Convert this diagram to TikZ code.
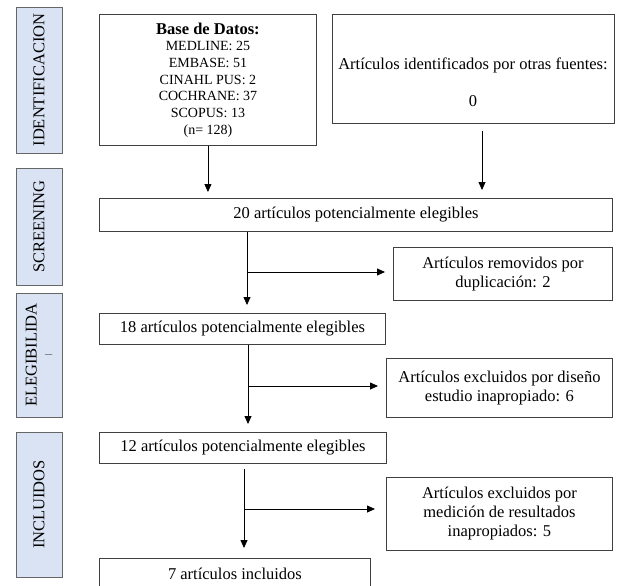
\documentclass[tikz,border=0pt]{standalone}
\usepackage{fontspec}
\setmainfont{Liberation Serif}
\usetikzlibrary{arrows.meta}

\definecolor{phasebg}{RGB}{218,227,243}

\begin{document}
\begin{tikzpicture}[x=1pt, y=-1pt,
  every node/.style={font=\fontsize{16.5}{19}\selectfont},
  box/.style={draw=black!75, line width=0.9pt, inner sep=0pt, align=center, anchor=north west},
  phase/.style={draw=black!60, fill=phasebg, line width=0.9pt, inner sep=0pt, align=center, rotate=90, minimum height=46pt},
  arr/.style={-{Triangle[length=8pt, width=7pt]}, line width=0.8pt, shorten >=8pt}]

\useasboundingbox (0,0) rectangle (629,586);

% phases (left column)
\node[phase, minimum width=146pt] (pid) at (39,80) {IDENTIFICACION};
\node[phase, minimum width=117pt] (pscr) at (39,226.5) {SCREENING};
\node[phase, minimum width=124pt] (pele) at (39,355) {ELEGIBILIDA\\[-5pt]{\fontsize{8}{8}\selectfont|}};
\node[phase, minimum width=145pt] (pinc) at (39,504.5) {INCLUIDOS};

% identification
\node[box, minimum width=217pt, minimum height=131pt, font=\fontsize{14}{16.7}\selectfont] (base) at (99,14)
  {{\fontsize{16.5}{17}\selectfont\bfseries Base de Datos:}\\ MEDLINE: 25\\ EMBASE: 51\\ CINAHL PUS: 2\\ COCHRANE: 37\\ SCOPUS: 13\\ (n= 128)};
\node[box, minimum width=282pt, minimum height=109pt] (otras) at (332,14) {};
\node[align=center, inner sep=0pt] (otrastxt) at (473,82.5) {Artículos identificados por otras fuentes:\\[18pt]0};

% screening
\node[box, minimum width=513pt, minimum height=33pt] (screen) at (99,198) {20 artículos potencialmente elegibles};
\node[box, minimum width=219pt, minimum height=53pt] (rem) at (393,247) {Artículos removidos por\\ duplicación: 2};

% eligibility
\node[box, minimum width=286pt, minimum height=31pt] (ele) at (99,313) {18 artículos potencialmente elegibles};
\node[box, minimum width=226pt, minimum height=59pt] (dis) at (386,358) {Artículos excluidos por diseño\\ estudio inapropiado: 6};

% included
\node[box, minimum width=287pt, minimum height=31pt] (inc) at (99,432) {12 artículos potencialmente elegibles};
\node[box, minimum width=226pt, minimum height=73pt] (med) at (386,477) {Artículos excluidos por\\ medición de resultados\\ inapropiados: 5};
\node[box, minimum width=271pt, minimum height=31pt] (fin) at (99,558) {7 artículos incluidos};

% arrows
\coordinate (o1) at (482,131);
\coordinate (s1) at (247,272);
\coordinate (e1) at (248,386);
\coordinate (i1) at (244,509);

\draw[arr, shorten >=6pt] (base.south) -- (base.south |- screen.north);
\draw[arr] (o1) -- (o1 |- screen.north);

\draw[arr] (screen.south -| s1) -- (s1 |- ele.north);
\draw[arr] (s1) -- (s1 -| rem.west);

\draw[arr] (ele.south -| e1) -- (e1 |- inc.north);
\draw[arr] (e1) -- (e1 -| dis.west);

\draw[arr, shorten <=5pt, shorten >=10pt] (inc.south -| i1) -- (i1 |- fin.north);
\draw[arr, shorten >=11pt] (i1) -- (i1 -| med.west);

\end{tikzpicture}
\end{document}
